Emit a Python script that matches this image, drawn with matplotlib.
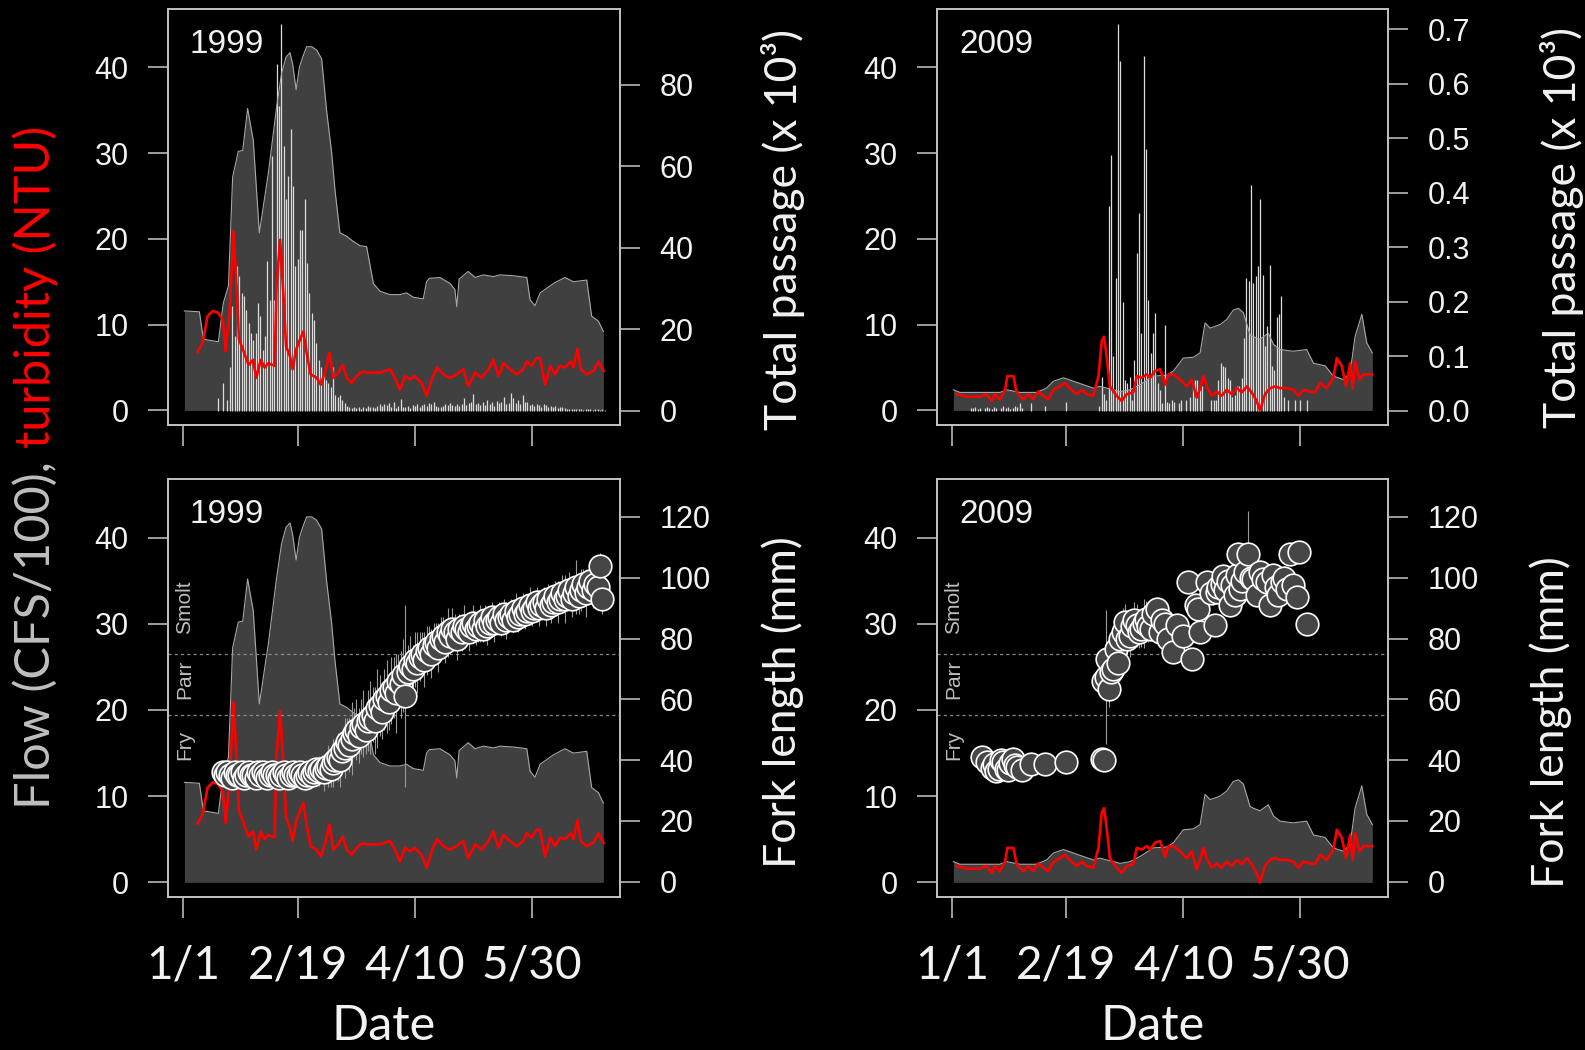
import numpy as np
import matplotlib
matplotlib.use("Agg")
import matplotlib.pyplot as plt

# ---- data (day of year, 0 = Jan 1) ----
tick_days = [0, 49, 99, 149]
tick_labels = ["1/1", "2/19", "4/10", "5/30"]

flow_days_1999 = [0.6, 7.0, 8.7, 15.1, 17.2, 19.4, 21.2, 23.6, 25.5, 27.6,
                  30.0, 32.6, 36.4, 40.0, 42.1, 44.0, 45.7, 46.8, 48.3, 49.7,
                  51.1, 52.8, 55.0, 57.1, 59.2, 61.3, 63.5, 64.9, 67.0, 69.9,
                  72.7, 75.6, 78.4, 81.3, 84.1, 88.4, 92.6, 95.5, 98.3, 102.6,
                  104.0, 105.2, 109.7, 114.0, 116.1, 116.9, 117.9, 121.8, 124.7, 128.3,
                  132.5, 135.4, 141.1, 146.8, 148.2, 150.3, 152.5, 158.2, 163.1, 166.7,
                  172.4, 174.5, 177.4, 179.5]
flow_1999 = [11.6, 11.5, 8.3, 8.0, 12.5, 14.5, 27.2, 30.2, 30.3, 35.2,
             31.5, 20.7, 27.6, 35.4, 39.3, 41.2, 41.7, 40.4, 37.4, 40.0,
             41.2, 42.4, 42.4, 42.0, 41.0, 35.0, 30.0, 25.7, 20.7, 20.3,
             19.7, 19.2, 19.1, 14.8, 13.9, 13.5, 13.5, 13.7, 13.2, 13.0,
             15.0, 15.4, 15.5, 14.8, 14.1, 12.1, 15.3, 16.2, 15.5, 15.8,
             15.6, 15.8, 15.7, 15.5, 12.9, 12.2, 13.7, 14.8, 15.5, 15.0,
             15.2, 11.0, 10.4, 9.2]

turb_days_1999 = [6.2, 8.4, 10.5, 12.7, 14.9, 17.0, 18.2, 19.9, 21.6, 23.2,
                  23.9, 25.6, 28.0, 29.9, 31.3, 33.2, 34.9, 36.4, 39.1, 40.0,
                  41.5, 43.0, 44.0, 45.7, 46.8, 48.3, 50.0, 51.4, 52.8, 54.5,
                  57.1, 58.8, 60.6, 62.5, 64.2, 66.3, 68.2, 69.9, 72.0, 74.2,
                  76.3, 79.8, 84.1, 88.4, 90.5, 92.6, 94.8, 96.9, 99.0, 101.9,
                  104.0, 106.2, 108.4, 111.2, 114.0, 116.9, 119.7, 121.8, 124.7, 127.6,
                  130.4, 132.5, 134.7, 136.8, 139.6, 142.5, 145.3, 146.8, 148.9, 151.0,
                  152.5, 154.6, 156.8, 158.9, 161.0, 163.1, 165.6, 166.7, 168.4, 169.9,
                  172.4, 175.3, 177.4, 179.5]
turb_1999 = [6.8, 7.9, 11.0, 11.6, 11.4, 10.6, 6.9, 11.4, 20.9, 12.9,
             8.3, 7.1, 5.3, 5.9, 3.8, 5.9, 5.0, 5.5, 5.2, 14.8,
             19.9, 12.9, 7.5, 6.3, 4.8, 7.1, 8.3, 9.2, 6.7, 4.2,
             3.8, 3.0, 4.4, 6.7, 3.8, 4.4, 5.3, 3.8, 3.2, 4.0,
             4.5, 4.4, 4.4, 4.8, 3.8, 2.4, 4.0, 3.6, 4.0, 3.2,
             1.7, 3.6, 5.0, 4.2, 3.8, 4.2, 4.8, 2.8, 4.4, 3.8,
             4.8, 5.9, 4.0, 5.5, 4.8, 4.2, 4.8, 5.7, 5.2, 6.1,
             6.1, 3.0, 5.2, 4.2, 5.2, 5.0, 5.7, 5.0, 7.2, 4.8,
             4.2, 4.6, 5.7, 4.6]

# daily passage (x 10^3), days 15..180
pass_1999 = [3.1, 0.0, 6.8, 0.0, 2.7, 10.9, 25.7, 18.3, 35.5, 33.1,
             29.0, 28.1, 24.9, 21.6, 19.1, 17.5, 19.1, 26.5, 23.2, 15.0,
             18.3, 36.8, 27.3, 62.6, 27.3, 85.2, 74.9, 95.0, 65.1, 51.9,
             57.7, 69.2, 55.2, 35.5, 37.2, 44.5, 44.5, 51.9, 36.3, 29.0,
             24.0, 22.4, 16.7, 12.6, 10.9, 9.3, 7.6, 6.8, 6.0, 10.9,
             3.9, 3.5, 3.9, 2.7, 1.9,
             1.2, 1.0, 0.8, 1.1, 0.7, 0.9, 0.6, 1.0, 0.8, 1.2,
             0.9, 1.0, 0.7, 1.3, 1.6, 1.2, 1.8, 1.5, 1.9, 1.0,
             2.3, 0.8, 1.2, 2.9, 1.1, 0.9, 1.3, 0.8, 1.5, 1.2,
             1.6, 1.0, 1.4, 1.7, 1.2, 2.0, 1.8, 2.1, 1.3, 1.0,
             0.9, 1.2, 1.6, 1.4, 1.9, 1.5, 1.3, 1.7, 1.2, 1.8,
             3.1, 1.4, 1.9, 2.3, 4.1, 1.6, 1.9, 1.5, 2.2, 1.4,
             2.7, 1.8, 2.1, 1.3, 2.4, 1.9, 2.2, 3.5, 1.7, 2.0,
             4.3, 3.1, 1.9, 2.6, 1.8, 3.9, 2.1, 2.3, 1.5, 1.8,
             1.2, 1.6, 1.4, 1.1, 1.7, 1.5, 0.9, 1.2, 1.0, 1.3,
             0.8, 1.1, 0.9, 0.7, 0.5, 0.6, 0.4, 0.5, 0.6, 0.4,
             0.5, 0.3, 0.6, 0.4, 0.5, 0.3, 0.4, 0.5, 0.3, 0.4, 0.3]
pass_days_1999 = np.arange(15, 15 + len(pass_1999))

# daily fork length 1999, days 17..179
fork_1999 = [36, 35, 36, 35, 34, 36, 35, 35, 36, 34,
             35, 36, 35, 35, 34, 36, 35, 36, 35, 34,
             35, 36, 35, 35, 34, 35, 36, 35, 34, 35,
             36, 35, 35, 36, 35, 34, 35, 36, 35, 36, 37,
             36.5, 37, 36, 37.5, 38, 37, 39, 40,
             41, 40, 43, 44, 46, 45, 47, 49, 50, 48,
             51, 52, 50, 53, 54, 55, 53, 57, 58, 56,
             60, 61, 59, 63, 64, 62, 66, 65, 68, 61,
             69, 71, 70, 73, 72, 74, 75, 73, 76, 77,
             75, 78, 79, 77, 80, 81, 79, 82, 81, 83,
             82, 80, 83, 82, 84, 83, 82, 84, 85, 83,
             84, 85, 83, 86, 84, 85, 87, 85, 86, 87,
             85, 88, 86, 87, 88, 86, 89, 87, 88, 90,
             88, 89, 91, 89, 90, 92, 90, 91, 92, 90,
             93, 91, 92, 94, 92, 93, 95, 93, 94, 96,
             93, 95, 97, 94, 96, 98, 95, 97, 99, 96,
             98, 97, 104, 93]
fork_err_1999 = [2, 1, 2, 2, 1, 2, 1, 2, 2, 1,
                 2, 2, 1, 2, 2, 1, 2, 2, 1, 2,
                 2, 1, 2, 2, 3, 2, 2, 1, 2, 3,
                 2, 2, 3, 2, 3, 2, 3, 4, 3, 4, 4,
                 5, 4, 6, 5, 7, 6, 8, 7,
                 8, 9, 7, 10, 8, 9, 12, 8, 10, 9,
                 9, 11, 8, 10, 12, 9, 11, 13, 10, 9,
                 10, 12, 9, 11, 10, 13, 9, 11, 12, 30,
                 9, 10, 8, 9, 10, 8, 7, 9, 8, 7,
                 8, 7, 6, 8, 7, 6, 7, 8, 6, 7,
                 6, 7, 5, 6, 7, 5, 6, 5, 6, 5,
                 5, 6, 4, 5, 6, 4, 5, 6, 4, 5,
                 4, 5, 6, 4, 5, 4, 6, 5, 4, 5,
                 5, 4, 6, 5, 4, 5, 6, 4, 5, 6,
                 5, 6, 4, 5, 7, 5, 6, 8, 5, 6,
                 6, 5, 9, 6, 7, 5, 8, 6, 7, 6,
                 5, 6, 4, 5]
fork_days_1999 = np.arange(17, 17 + len(fork_1999))

flow_days_2009 = [0.6, 3.4, 14.8, 20.5, 23.4, 29.1, 36.2, 40.5, 43.4, 47.7,
                  52.0, 56.2, 60.5, 63.4, 66.2, 69.1, 71.9, 76.2, 80.5, 86.2,
                  91.9, 94.8, 99.0, 103.3, 106.2, 108.3, 110.5, 114.7, 117.6, 120.4,
                  122.6, 124.7, 127.6, 129.0, 131.8, 135.4, 137.6, 140.4, 146.1, 151.8,
                  154.7, 159.7, 163.2, 167.5, 170.4, 172.5, 175.4, 177.5, 179.9]
flow_2009 = [2.4, 2.1, 2.1, 2.1, 2.4, 2.1, 2.1, 2.6, 3.4, 3.8,
             3.4, 3.0, 2.6, 2.8, 2.6, 2.4, 2.2, 2.4, 3.0, 4.0,
             4.1, 4.6, 6.1, 6.2, 6.7, 10.2, 9.6, 10.0, 10.6, 11.7,
             11.9, 11.4, 8.8, 8.6, 8.3, 9.0, 7.7, 7.1, 6.9, 7.1,
             5.5, 5.2, 4.0, 3.6, 4.4, 8.6, 11.2, 7.9, 6.7]

turb_days_2009 = [2.0, 6.3, 12.0, 14.8, 17.0, 18.4, 20.5, 22.7, 23.7, 26.3,
                  27.7, 30.5, 32.7, 34.8, 36.9, 39.1, 41.2, 43.4, 46.2, 48.4,
                  50.5, 53.4, 55.5, 57.7, 60.5, 62.7, 64.1, 65.1, 66.2, 67.6,
                  70.5, 72.6, 74.8, 77.6, 79.1, 81.2, 83.3, 84.8, 86.9, 89.1,
                  91.2, 92.6, 94.8, 97.6, 100.5, 102.6, 104.7, 106.2, 107.6, 109.0,
                  111.2, 113.3, 115.4, 117.6, 119.7, 121.9, 124.0, 126.2, 128.3, 130.4,
                  131.8, 134.0, 136.1, 138.3, 140.4, 143.2, 146.1, 148.3, 150.4, 153.3,
                  155.4, 157.6, 160.4, 163.2, 164.7, 166.8, 168.7, 170.4, 171.5, 172.5,
                  174.4, 176.1, 179.7]
turb_2009 = [1.9, 1.6, 1.6, 1.9, 1.1, 1.9, 1.3, 2.4, 4.0, 4.0,
             2.1, 1.3, 1.9, 1.3, 2.2, 1.7, 1.3, 2.4, 2.8, 3.2,
             2.6, 1.9, 2.4, 1.9, 1.7, 4.0, 8.1, 8.6, 6.3, 2.8,
             1.7, 1.1, 1.9, 2.1, 4.0, 3.8, 4.2, 3.8, 4.6, 4.8,
             3.0, 4.2, 4.2, 3.6, 2.8, 3.6, 1.5, 2.6, 4.0, 2.8,
             1.7, 2.2, 1.7, 2.4, 1.9, 2.6, 2.1, 2.8, 2.1, 1.1,
             0.0, 1.9, 2.6, 2.8, 2.6, 2.6, 2.4, 1.7, 2.4, 2.2,
             2.1, 3.2, 2.6, 3.8, 6.1, 5.2, 2.8, 5.5, 2.6, 5.7,
             3.6, 4.2, 4.2]

pass_days_2009 = [8, 9, 10, 11, 12, 14, 15, 16, 17, 18, 19, 21, 22, 23, 24, 25, 26, 27, 28, 29, 30,
                  34, 40, 49, 63, 64, 65, 66, 67, 68, 69, 70, 71, 72,
                  73, 74, 75, 76, 77, 78, 79, 80, 81, 82,
                  83, 84, 85, 86, 87, 88, 89, 90, 91, 92,
                  93, 94, 95, 97, 98, 100, 102, 103, 104, 105, 106, 107,
                  111, 112, 113, 114, 115, 116, 117, 118, 119, 120, 121, 122,
                  123, 124, 125, 126, 127, 128, 129, 130, 131, 132,
                  133, 134, 135, 136, 137, 138, 139, 140, 141, 142,
                  144, 147, 149, 152]
pass_2009 = [0.006, 0.005, 0.007, 0.004, 0.006, 0.005, 0.008, 0.006, 0.004, 0.007, 0.005,
             0.006, 0.009, 0.005, 0.007, 0.004, 0.006, 0.010, 0.008, 0.014, 0.006,
             0.014, 0.009, 0.017, 0.010, 0.063, 0.032, 0.020, 0.376, 0.470, 0.100, 0.244, 0.710, 0.642,
             0.200, 0.057, 0.051, 0.063, 0.020, 0.094, 0.290, 0.363, 0.143, 0.651,
             0.480, 0.204, 0.106, 0.143, 0.180, 0.051, 0.039, 0.014, 0.158, 0.017,
             0.014, 0.020, 0.017, 0.014, 0.020, 0.020, 0.026, 0.051, 0.057, 0.057, 0.039, 0.045,
             0.020, 0.020, 0.020, 0.057, 0.088, 0.082, 0.080, 0.060, 0.057, 0.026, 0.030, 0.045,
             0.045, 0.060, 0.134, 0.244, 0.238, 0.415, 0.235, 0.247, 0.265, 0.388,
             0.250, 0.120, 0.156, 0.268, 0.082, 0.075, 0.173, 0.177, 0.210, 0.026,
             0.020, 0.020, 0.020, 0.020]

fork_days_2009 = [13, 15, 17, 18, 19, 20, 21, 22, 23, 24, 25, 26, 27, 28, 30, 34, 40, 49,
                  64, 65, 64.5, 66, 67, 66.5, 68, 69, 70, 71, 72, 73, 74, 75, 76, 77, 78,
                  79, 80, 81, 82, 83, 84, 85, 86, 87.6, 89, 90, 91, 92.6, 94.8, 96.2, 99,
                  101, 102.6, 104.5, 105.4, 106.2, 109, 111, 112.6, 113.3, 114, 115.4, 116,
                  117, 118, 119, 120, 121, 122, 122.6, 123.3, 124, 125.4, 126.9, 128, 129,
                  130.4, 131.8, 133, 134.7, 136.1, 137.6, 138.5, 139.7, 141.1, 142, 143.2,
                  144.7, 146.1, 147.5, 148.3, 151.8]
fork_2009 = [41, 39.5, 37.5, 38.8, 36.5, 37.2, 40.0, 39.4, 37.0, 36.6, 39.0, 40.5, 38.5, 37.7,
             36.6, 38.8, 38.8, 39.4,
             40.5, 39.9, 66.2, 67.3, 63.5, 73.4, 69.0, 70.1, 76.6, 72.0, 79.9, 82.0, 85.4,
             80.0, 81.0, 84.0, 86.0,
             84.3, 82.0, 83.2, 85.0, 86.5, 84.0, 83.2, 88.0, 89.8, 82.1, 86.0, 84.9, 79.9,
             75.5, 84.3, 81.0,
             98.6, 73.4, 90.9, 89.8, 82.1, 98.6, 95.0, 84.3, 95.3, 97.0, 98.0, 100.5,
             96.0, 99.0, 90.9, 97.5, 94.2, 101.0, 107.9, 96.4, 99.0, 101.9, 107.9, 100.0, 99.7,
             94.2, 101.9, 99.5, 98.6, 90.9, 100.8, 97.0, 94.2, 98.6, 100.0, 96.4,
             107.9, 97.5, 93.6, 108.4, 84.9]
fork_err_2009 = [1, 1.5, 1, 1, 1, 1.5, 1, 1, 1, 1, 1, 1, 1, 1, 1, 1, 1, 1,
                 0, 1, 3, 22, 6, 4, 6, 5, 5, 4, 6, 8, 6, 5, 7, 5, 6,
                 7, 5, 6, 8, 6, 5, 4, 4, 3, 3, 3, 2, 2, 2, 2, 2,
                 2, 2, 2, 2, 2, 2, 3, 3, 3, 4, 3, 4,
                 3, 4, 3, 4, 3, 5, 3, 4, 4, 5, 14, 4, 4,
                 3, 4, 4, 4, 3, 4, 4, 4, 5, 4, 3,
                 3, 3, 3, 3, 2]

stage_names = ["Smolt", "Parr", "Fry"]
stage_label_mm = [90.3, 66.6, 45.0]
stage_bounds_mm = [55, 75]

# ---- layout ----
W, H = 1585, 1050
BG = "black"
FG = "#f2f2f2"
AXC = "#c8c8c8"
FILL = "#404040"
RFONT = ["Liberation Sans", "DejaVu Sans"]
CFONT = ["Lato", "DejaVu Sans"]

fig = plt.figure(figsize=(W / 100, H / 100), dpi=100, facecolor=BG)


def box(l, r, t, b):
    return [l / W, 1 - b / H, (r - l) / W, (b - t) / H]


def style(ax, ax2, bottom_row):
    for a in (ax, ax2):
        a.set_facecolor("none")
        for s in a.spines.values():
            s.set_color(AXC)
            s.set_linewidth(1.1)
    ax.set_facecolor(BG)
    ax.set_xlim(-6.4, 186.6)
    ax.set_ylim(-1.7, 46.8)
    ax.set_xticks(tick_days)
    ax.set_yticks([0, 10, 20, 30, 40])
    ax.tick_params(axis="y", length=14.4, width=1.1, color=AXC, pad=14,
                   labelsize=22, labelcolor=FG)
    ax.tick_params(axis="x", length=15, width=1.1, color=AXC, pad=19,
                   labelsize=33, labelcolor=FG, labelbottom=bottom_row)
    ax2.tick_params(axis="y", length=14.4, width=1.1, color=AXC, pad=14,
                    labelsize=22, labelcolor=FG)
    for lab in ax.get_yticklabels() + ax2.get_yticklabels():
        lab.set_family(RFONT)
    if bottom_row:
        ax.set_xticklabels(tick_labels, family=CFONT)
        ax.set_xlabel("Date", fontsize=35, family=CFONT, color=FG)
        ax.xaxis.set_label_coords(0.478, -0.255)


def draw_flow(ax, fd, fv):
    ax.fill_between(fd, fv, 0, color=FILL, lw=0)


def draw_lines(ax, fd, fv, td, tv):
    ax.plot(fd, fv, color="#a8a8a8", lw=0.8)
    ax.plot(td, tv, color="#ff0000", lw=1.9)


panels = [
    ("1999", (168, 620, 9, 425), False),
    ("2009", (937, 1388, 9, 425), False),
    ("1999", (168, 620, 479, 897), True),
    ("2009", (937, 1388, 479, 897), True),
]
series = {
    "1999": dict(fd=flow_days_1999, fv=flow_1999, td=turb_days_1999, tv=turb_1999,
                 pd=pass_days_1999, pv=pass_1999, pl=(-3.44, 98.65),
                 pt=[0, 20, 40, 60, 80], ptl=["0", "20", "40", "60", "80"],
                 kd=fork_days_1999, kv=fork_1999, ke=fork_err_1999),
    "2009": dict(fd=flow_days_2009, fv=flow_2009, td=turb_days_2009, tv=turb_2009,
                 pd=pass_days_2009, pv=pass_2009, pl=(-0.0257, 0.7372),
                 pt=[0, 0.1, 0.2, 0.3, 0.4, 0.5, 0.6, 0.7],
                 ptl=["0.0", "0.1", "0.2", "0.3", "0.4", "0.5", "0.6", "0.7"],
                 kd=fork_days_2009, kv=fork_2009, ke=fork_err_2009),
}

for year, (l, r, t, b), bottom_row in panels:
    d = series[year]
    ax = fig.add_axes(box(l, r, t, b))
    ax2 = ax.twinx()
    draw_flow(ax, d["fd"], d["fv"])
    if not bottom_row:
        ax2.set_ylim(*d["pl"])
        ax2.set_yticks(d["pt"])
        ax2.set_yticklabels(d["ptl"])
        # passage bars drawn in the flow axes so they sit under the red line
        ax.vlines(d["pd"], 0, d["pv"], transform=ax2.transData,
                  color="#dcdcdc", lw=0.9)
        draw_lines(ax, d["fd"], d["fv"], d["td"], d["tv"])
    else:
        draw_lines(ax, d["fd"], d["fv"], d["td"], d["tv"])
        ax2.set_ylim(-5.03, 132.5)
        ax2.set_yticks([0, 20, 40, 60, 80, 100, 120])
        for y in stage_bounds_mm:
            ax2.axhline(y, color="#8a8a8a", lw=0.9, ls=(0, (2.5, 2.5)))
        for name, y in zip(stage_names, stage_label_mm):
            ax2.text(0.6, y, name, rotation=90, ha="center", va="center",
                     fontsize=15, color="#bdbdbd", family=RFONT)
        kv = np.array(d["kv"], dtype=float)
        ke = np.array(d["ke"], dtype=float)
        ax2.vlines(d["kd"], kv - ke, kv + ke, color="#9a9a9a", lw=0.8)
        ax2.scatter(d["kd"], kv, s=265, facecolor="#464646", edgecolor="white",
                    linewidths=1.2, zorder=3)
    style(ax, ax2, bottom_row)
    ax.text(22 / (r - l), 0.894, year, transform=ax.transAxes, fontsize=24,
            color=FG, family=RFONT, va="baseline", ha="left")

# right-hand axis titles
for x, y, txt in [(783, 230, "Total passage (x 10³)"),
                  (1562, 228, "Total passage (x 10³)"),
                  (783, 702, "Fork length (mm)"),
                  (1551, 722, "Fork length (mm)")]:
    fig.text(x / W, 1 - y / H, txt, rotation=90, ha="center", va="center",
             fontsize=32, color=FG, family=CFONT)

# two-colour left axis title
t1 = fig.text(35 / W, 1 - 809 / H, "Flow (CFS/100),", rotation=90,
              rotation_mode="anchor", ha="left", va="center",
              fontsize=35, color="#bfbfbf", family=CFONT)
fig.canvas.draw()
bb = t1.get_window_extent()
fig.text(35 / W, (bb.y1 + 13) / H, "turbidity (NTU)", rotation=90,
         rotation_mode="anchor", ha="left", va="center",
         fontsize=35, color="#ff0000", family=CFONT)

fig.savefig("out.png", dpi=100, facecolor=BG)
